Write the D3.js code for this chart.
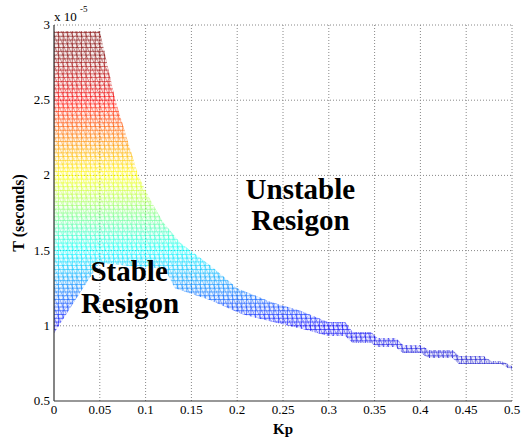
<!DOCTYPE html>
<html>
<head>
<meta charset="utf-8">
<script src="https://cdn.jsdelivr.net/npm/d3@7"></script>
<style>
  body { margin: 0; background: #fff; }
  svg text { font-family: "Liberation Serif", "Times New Roman", serif; }
</style>
</head>
<body>
<div id="chart"></div>
<script>
// upper edge of the stable region (Kp, T in 1e-5 s)
const kpUpper = [0, 0.050, 0.067, 0.092, 0.105, 0.119, 0.138, 0.171, 0.200, 0.236, 0.269, 0.299,
    0.318, 0.326, 0.346, 0.353, 0.373, 0.381, 0.400, 0.409, 0.435, 0.442, 0.469, 0.477, 0.488, 0.5];
const tUpper = [2.96, 2.96, 2.50, 2.00, 1.84, 1.69, 1.55, 1.40, 1.25, 1.16, 1.10, 1.025,
    1.025, 0.959, 0.959, 0.919, 0.919, 0.872, 0.872, 0.839, 0.839, 0.799, 0.799, 0.766, 0.766, 0.733];
// lower edge
const kpLower = [0, 0.039, 0.050, 0.080, 0.121, 0.132, 0.171, 0.204, 0.236, 0.277, 0.299,
    0.318, 0.326, 0.346, 0.353, 0.373, 0.381, 0.400, 0.409, 0.435, 0.442, 0.477, 0.488, 0.5];
const tLower = [0.95, 1.32, 1.42, 1.40, 1.38, 1.25, 1.17, 1.08, 1.03, 0.97, 0.932,
    0.932, 0.886, 0.886, 0.859, 0.859, 0.819, 0.819, 0.786, 0.786, 0.746, 0.746, 0.746, 0.706];

const kpTicks = [0, 0.05, 0.1, 0.15, 0.2, 0.25, 0.3, 0.35, 0.4, 0.45, 0.5];
const tTicks = [0.5, 1, 1.5, 2, 2.5, 3];

// jet colormap stops against T
const jetT = [0.75, 1.0, 1.5, 2.0, 2.5, 2.8];
const jetColors = ["#1010c8", "#0000ff", "#00ffff", "#ffff00", "#ff0000", "#800000"];

const margin = { top: 25, right: 19, bottom: 38, left: 54 },
    width = 458,
    height = 376;

const svg = d3.select("#chart").append("svg")
    .attr("width", 531)
    .attr("height", 439);

const chart = svg.append("g")
    .attr("transform", `translate(${margin.left},${margin.top})`);

const x = d3.scaleLinear().domain([0, 0.5]).range([0, width]);
const y = d3.scaleLinear().domain([0.5, 3]).range([height, 0]);

// grid
chart.append("g")
    .selectAll("line.gx")
    .data(kpTicks.slice(1))
    .enter().append("line")
    .attr("x1", d => x(d)).attr("x2", d => x(d))
    .attr("y1", 0).attr("y2", height)
    .attr("stroke", "#888").attr("stroke-width", 1)
    .attr("stroke-dasharray", "1,2");
chart.append("g")
    .selectAll("line.gy")
    .data(tTicks.slice(1))
    .enter().append("line")
    .attr("x1", 0).attr("x2", width)
    .attr("y1", d => y(d)).attr("y2", d => y(d))
    .attr("stroke", "#888").attr("stroke-width", 1)
    .attr("stroke-dasharray", "1,2");

// jet gradient in user space (by T)
const defs = svg.append("defs");
const grad = defs.append("linearGradient")
    .attr("id", "jet")
    .attr("gradientUnits", "userSpaceOnUse")
    .attr("x1", 0).attr("x2", 0)
    .attr("y1", y(jetT[0])).attr("y2", y(jetT[jetT.length - 1]));
jetT.forEach((t, i) => {
    grad.append("stop")
        .attr("offset", (t - jetT[0]) / (jetT[jetT.length - 1] - jetT[0]))
        .attr("stop-color", jetColors[i]);
});

// region outline as clip
const upperPts = kpUpper.map((k, i) => [x(k), y(tUpper[i])]);
const lowerPts = kpLower.map((k, i) => [x(k), y(tLower[i])]).reverse();
defs.append("clipPath").attr("id", "region")
    .append("path")
    .attr("d", d3.line()(upperPts.concat(lowerPts)) + "Z");

const mesh = chart.append("g").attr("clip-path", "url(#region)");

// mesh lines
const tRows = d3.range(0.70, 3.0, 0.025);
const kpCols = d3.range(0, 0.505, 0.005);

mesh.append("rect")
    .attr("x", 0).attr("y", 0).attr("width", width).attr("height", height)
    .attr("fill", "url(#jet)").attr("opacity", 0.08);

mesh.selectAll("line.h")
    .data(tRows)
    .enter().append("line")
    .attr("x1", 0).attr("x2", width)
    .attr("y1", d => y(d)).attr("y2", d => y(d))
    .attr("stroke", "url(#jet)").attr("stroke-width", 0.7).attr("opacity", 0.8);

mesh.selectAll("line.v")
    .data(kpCols)
    .enter().append("line")
    .attr("x1", d => x(d)).attr("x2", d => x(d))
    .attr("y1", 0).attr("y2", height)
    .attr("stroke", "url(#jet)").attr("stroke-width", 0.7).attr("opacity", 0.8);

// diagonal hatching
mesh.selectAll("line.d1")
    .data(d3.range(-0.6, 0.5, 0.005))
    .enter().append("line")
    .attr("x1", d => x(d)).attr("y1", 0)
    .attr("x2", d => x(d) + height / 2.2).attr("y2", height)
    .attr("stroke", "url(#jet)").attr("stroke-width", 0.6).attr("opacity", 0.65);

mesh.selectAll("line.d2")
    .data(d3.range(0, 1.0, 0.007))
    .enter().append("line")
    .attr("x1", d => x(d)).attr("y1", 0)
    .attr("x2", d => x(d) - height).attr("y2", height)
    .attr("stroke", "url(#jet)").attr("stroke-width", 0.5).attr("opacity", 0.4);

// axes
chart.append("line")
    .attr("x1", 0).attr("x2", width).attr("y1", height).attr("y2", height)
    .attr("stroke", "#333").attr("stroke-width", 1.2);
chart.append("line")
    .attr("x1", 0).attr("x2", 0).attr("y1", 0).attr("y2", height)
    .attr("stroke", "#333").attr("stroke-width", 1.2);

chart.selectAll(".xt")
    .data(kpTicks)
    .enter().append("text")
    .attr("x", d => x(d))
    .attr("y", height + 13)
    .attr("text-anchor", "middle")
    .style("font-size", "13px")
    .text(d => d);

chart.selectAll(".yt")
    .data(tTicks)
    .enter().append("text")
    .attr("x", -4)
    .attr("y", d => y(d) + 4)
    .attr("text-anchor", "end")
    .style("font-size", "13px")
    .text(d => d);

chart.append("text")
    .attr("x", 0).attr("y", -4)
    .style("font-size", "13px")
    .text("x 10");
chart.append("text")
    .attr("x", 26).attr("y", -13)
    .style("font-size", "9px")
    .text("-5");

chart.append("text")
    .attr("x", width / 2).attr("y", height + 33)
    .attr("text-anchor", "middle")
    .style("font-size", "15px").style("font-weight", "bold")
    .text("Kp");

chart.append("text")
    .attr("transform", `translate(-30,${height / 2}) rotate(-90)`)
    .attr("text-anchor", "middle")
    .style("font-size", "16px").style("font-weight", "bold")
    .text("T (seconds)");

// region labels
const labels = [
    { text: "Unstable", kp: 0.269, t: 1.843 },
    { text: "Resigon", kp: 0.269, t: 1.637 },
    { text: "Stable", kp: 0.082, t: 1.298 },
    { text: "Resigon", kp: 0.083, t: 1.085 }
];
chart.selectAll(".lab")
    .data(labels)
    .enter().append("text")
    .attr("x", d => x(d.kp))
    .attr("y", d => y(d.t))
    .attr("text-anchor", "middle")
    .style("font-size", "29px").style("font-weight", "bold")
    .text(d => d.text);
</script>
</body>
</html>
